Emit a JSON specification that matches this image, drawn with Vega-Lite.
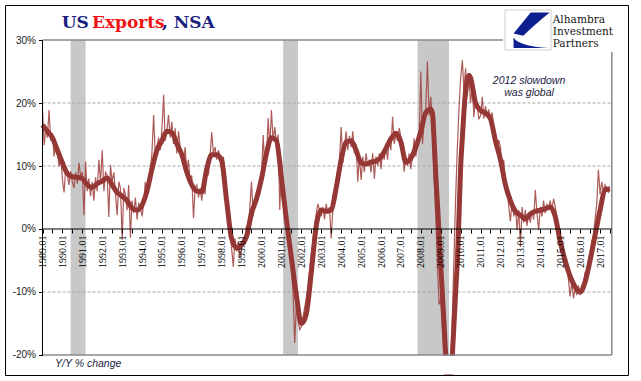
{
  "$schema": "https://vega.github.io/schema/vega-lite/v6.json",
  "width": 623,
  "height": 370,
  "autosize": {"type": "none"},
  "padding": {"left": 5, "top": 5, "right": 13, "bottom": 6},
  "background": "white",
  "config": {"view": {"stroke": "black", "strokeWidth": 1}},
  "datasets": {
    "m": [
      {"d":"1989-01","v":18.9},{"d":"1989-02","v":13.3},{"d":"1989-03","v":15.8},{"d":"1989-04","v":14.5},{"d":"1989-05","v":18.9},{"d":"1989-06","v":14.0},{"d":"1989-07","v":15.2},{"d":"1989-08","v":11.5},{"d":"1989-09","v":13.8},{"d":"1989-10","v":12.0},{"d":"1989-11","v":9.9},{"d":"1989-12","v":11.8},
      {"d":"1990-01","v":7.8},{"d":"1990-02","v":5.8},{"d":"1990-03","v":9.5},{"d":"1990-04","v":8.6},{"d":"1990-05","v":7.0},{"d":"1990-06","v":9.2},{"d":"1990-07","v":7.5},{"d":"1990-08","v":6.5},{"d":"1990-09","v":9.0},{"d":"1990-10","v":7.2},{"d":"1990-11","v":10.5},{"d":"1990-12","v":8.4},
      {"d":"1991-01","v":9.0},{"d":"1991-02","v":2.2},{"d":"1991-03","v":10.7},{"d":"1991-04","v":6.0},{"d":"1991-05","v":8.0},{"d":"1991-06","v":5.2},{"d":"1991-07","v":7.5},{"d":"1991-08","v":4.5},{"d":"1991-09","v":8.2},{"d":"1991-10","v":6.0},{"d":"1991-11","v":11.0},{"d":"1991-12","v":7.5},
      {"d":"1992-01","v":12.5},{"d":"1992-02","v":6.0},{"d":"1992-03","v":9.0},{"d":"1992-04","v":8.5},{"d":"1992-05","v":1.9},{"d":"1992-06","v":10.2},{"d":"1992-07","v":7.5},{"d":"1992-08","v":9.0},{"d":"1992-09","v":5.5},{"d":"1992-10","v":2.2},{"d":"1992-11","v":7.5},{"d":"1992-12","v":6.5},
      {"d":"1993-01","v":-1.7},{"d":"1993-02","v":6.5},{"d":"1993-03","v":5.5},{"d":"1993-04","v":3.0},{"d":"1993-05","v":7.0},{"d":"1993-06","v":-1.4},{"d":"1993-07","v":4.5},{"d":"1993-08","v":2.5},{"d":"1993-09","v":5.0},{"d":"1993-10","v":1.5},{"d":"1993-11","v":4.0},{"d":"1993-12","v":3.5},
      {"d":"1994-01","v":2.0},{"d":"1994-02","v":4.0},{"d":"1994-03","v":7.5},{"d":"1994-04","v":5.5},{"d":"1994-05","v":8.0},{"d":"1994-06","v":9.5},{"d":"1994-07","v":12.0},{"d":"1994-08","v":18.1},{"d":"1994-09","v":11.5},{"d":"1994-10","v":13.0},{"d":"1994-11","v":14.5},{"d":"1994-12","v":12.5},
      {"d":"1995-01","v":16.0},{"d":"1995-02","v":21.3},{"d":"1995-03","v":14.0},{"d":"1995-04","v":15.5},{"d":"1995-05","v":18.1},{"d":"1995-06","v":14.5},{"d":"1995-07","v":17.0},{"d":"1995-08","v":13.5},{"d":"1995-09","v":16.0},{"d":"1995-10","v":12.0},{"d":"1995-11","v":15.5},{"d":"1995-12","v":13.0},
      {"d":"1996-01","v":12.0},{"d":"1996-02","v":10.5},{"d":"1996-03","v":13.0},{"d":"1996-04","v":9.0},{"d":"1996-05","v":11.0},{"d":"1996-06","v":7.5},{"d":"1996-07","v":8.5},{"d":"1996-08","v":1.7},{"d":"1996-09","v":6.5},{"d":"1996-10","v":7.0},{"d":"1996-11","v":5.0},{"d":"1996-12","v":6.5},
      {"d":"1997-01","v":4.5},{"d":"1997-02","v":7.0},{"d":"1997-03","v":5.5},{"d":"1997-04","v":10.0},{"d":"1997-05","v":8.5},{"d":"1997-06","v":11.5},{"d":"1997-07","v":15.4},{"d":"1997-08","v":12.0},{"d":"1997-09","v":13.0},{"d":"1997-10","v":11.0},{"d":"1997-11","v":12.5},{"d":"1997-12","v":11.5},
      {"d":"1998-01","v":10.0},{"d":"1998-02","v":11.5},{"d":"1998-03","v":9.0},{"d":"1998-04","v":4.5},{"d":"1998-05","v":2.0},{"d":"1998-06","v":0.5},{"d":"1998-07","v":-3.0},{"d":"1998-08","v":-6.0},{"d":"1998-09","v":-1.5},{"d":"1998-10","v":-3.5},{"d":"1998-11","v":-2.0},{"d":"1998-12","v":-4.5},
      {"d":"1999-01","v":-3.0},{"d":"1999-02","v":-1.5},{"d":"1999-03","v":-2.5},{"d":"1999-04","v":0.5},{"d":"1999-05","v":-1.0},{"d":"1999-06","v":3.5},{"d":"1999-07","v":7.5},{"d":"1999-08","v":2.0},{"d":"1999-09","v":5.0},{"d":"1999-10","v":4.0},{"d":"1999-11","v":6.5},{"d":"1999-12","v":5.5},
      {"d":"2000-01","v":8.5},{"d":"2000-02","v":14.9},{"d":"2000-03","v":9.5},{"d":"2000-04","v":11.0},{"d":"2000-05","v":17.6},{"d":"2000-06","v":13.0},{"d":"2000-07","v":18.9},{"d":"2000-08","v":14.0},{"d":"2000-09","v":16.2},{"d":"2000-10","v":13.5},{"d":"2000-11","v":15.0},{"d":"2000-12","v":3.0},
      {"d":"2001-01","v":11.0},{"d":"2001-02","v":6.5},{"d":"2001-03","v":4.0},{"d":"2001-04","v":2.5},{"d":"2001-05","v":0.5},{"d":"2001-06","v":-2.5},{"d":"2001-07","v":-6.0},{"d":"2001-08","v":-10.0},{"d":"2001-09","v":-18.1},{"d":"2001-10","v":-12.0},{"d":"2001-11","v":-14.5},{"d":"2001-12","v":-16.0},
      {"d":"2002-01","v":-15.5},{"d":"2002-02","v":-14.0},{"d":"2002-03","v":-12.5},{"d":"2002-04","v":-11.0},{"d":"2002-05","v":-9.0},{"d":"2002-06","v":-6.5},{"d":"2002-07","v":-4.0},{"d":"2002-08","v":-2.0},{"d":"2002-09","v":0.5},{"d":"2002-10","v":2.5},{"d":"2002-11","v":4.0},{"d":"2002-12","v":3.0},
      {"d":"2003-01","v":2.0},{"d":"2003-02","v":3.5},{"d":"2003-03","v":1.5},{"d":"2003-04","v":4.0},{"d":"2003-05","v":2.5},{"d":"2003-06","v":3.5},{"d":"2003-07","v":-1.5},{"d":"2003-08","v":3.0},{"d":"2003-09","v":5.0},{"d":"2003-10","v":7.5},{"d":"2003-11","v":9.0},{"d":"2003-12","v":11.0},
      {"d":"2004-01","v":16.2},{"d":"2004-02","v":10.5},{"d":"2004-03","v":13.0},{"d":"2004-04","v":15.5},{"d":"2004-05","v":12.5},{"d":"2004-06","v":14.8},{"d":"2004-07","v":13.0},{"d":"2004-08","v":15.5},{"d":"2004-09","v":12.0},{"d":"2004-10","v":13.5},{"d":"2004-11","v":7.5},{"d":"2004-12","v":11.5},
      {"d":"2005-01","v":7.8},{"d":"2005-02","v":11.5},{"d":"2005-03","v":9.0},{"d":"2005-04","v":12.0},{"d":"2005-05","v":10.0},{"d":"2005-06","v":11.0},{"d":"2005-07","v":9.0},{"d":"2005-08","v":12.0},{"d":"2005-09","v":8.0},{"d":"2005-10","v":11.5},{"d":"2005-11","v":10.0},{"d":"2005-12","v":12.0},
      {"d":"2006-01","v":9.5},{"d":"2006-02","v":12.5},{"d":"2006-03","v":11.0},{"d":"2006-04","v":13.5},{"d":"2006-05","v":11.0},{"d":"2006-06","v":14.5},{"d":"2006-07","v":12.5},{"d":"2006-08","v":17.8},{"d":"2006-09","v":13.5},{"d":"2006-10","v":15.0},{"d":"2006-11","v":14.0},{"d":"2006-12","v":16.0},
      {"d":"2007-01","v":14.5},{"d":"2007-02","v":13.0},{"d":"2007-03","v":9.1},{"d":"2007-04","v":11.5},{"d":"2007-05","v":10.0},{"d":"2007-06","v":12.0},{"d":"2007-07","v":9.5},{"d":"2007-08","v":11.5},{"d":"2007-09","v":14.4},{"d":"2007-10","v":11.5},{"d":"2007-11","v":13.5},{"d":"2007-12","v":14.0},
      {"d":"2008-01","v":25.0},{"d":"2008-02","v":13.5},{"d":"2008-03","v":17.0},{"d":"2008-04","v":19.0},{"d":"2008-05","v":26.6},{"d":"2008-06","v":18.0},{"d":"2008-07","v":21.0},{"d":"2008-08","v":17.0},{"d":"2008-09","v":8.0},{"d":"2008-10","v":2.0},{"d":"2008-11","v":-6.0},{"d":"2008-12","v":-12.0},
      {"d":"2009-01","v":-11.0},{"d":"2009-02","v":-16.0},{"d":"2009-03","v":-20.0},{"d":"2009-04","v":-25.0},{"d":"2009-05","v":-27.0},{"d":"2009-06","v":-26.0},{"d":"2009-07","v":-22.0},{"d":"2009-08","v":-14.0},{"d":"2009-09","v":-4.0},{"d":"2009-10","v":5.0},{"d":"2009-11","v":13.0},{"d":"2009-12","v":19.0},
      {"d":"2010-01","v":24.0},{"d":"2010-02","v":26.8},{"d":"2010-03","v":22.0},{"d":"2010-04","v":25.5},{"d":"2010-05","v":21.0},{"d":"2010-06","v":24.0},{"d":"2010-07","v":20.0},{"d":"2010-08","v":22.5},{"d":"2010-09","v":17.8},{"d":"2010-10","v":21.0},{"d":"2010-11","v":19.5},{"d":"2010-12","v":17.5},
      {"d":"2011-01","v":18.0},{"d":"2011-02","v":21.0},{"d":"2011-03","v":17.5},{"d":"2011-04","v":19.5},{"d":"2011-05","v":18.0},{"d":"2011-06","v":19.0},{"d":"2011-07","v":17.5},{"d":"2011-08","v":18.5},{"d":"2011-09","v":16.0},{"d":"2011-10","v":14.5},{"d":"2011-11","v":13.0},{"d":"2011-12","v":14.1},
      {"d":"2012-01","v":13.0},{"d":"2012-02","v":9.4},{"d":"2012-03","v":11.0},{"d":"2012-04","v":7.0},{"d":"2012-05","v":6.5},{"d":"2012-06","v":3.5},{"d":"2012-07","v":1.2},{"d":"2012-08","v":4.5},{"d":"2012-09","v":2.0},{"d":"2012-10","v":3.5},{"d":"2012-11","v":-0.2},{"d":"2012-12","v":3.0},
      {"d":"2013-01","v":-2.8},{"d":"2013-02","v":3.5},{"d":"2013-03","v":1.0},{"d":"2013-04","v":3.0},{"d":"2013-05","v":0.5},{"d":"2013-06","v":2.5},{"d":"2013-07","v":1.0},{"d":"2013-08","v":3.0},{"d":"2013-09","v":1.5},{"d":"2013-10","v":6.2},{"d":"2013-11","v":2.5},{"d":"2013-12","v":-0.2},
      {"d":"2014-01","v":3.5},{"d":"2014-02","v":2.0},{"d":"2014-03","v":4.5},{"d":"2014-04","v":2.5},{"d":"2014-05","v":4.0},{"d":"2014-06","v":3.0},{"d":"2014-07","v":4.5},{"d":"2014-08","v":3.0},{"d":"2014-09","v":4.8},{"d":"2014-10","v":3.5},{"d":"2014-11","v":2.0},{"d":"2014-12","v":0.0},
      {"d":"2015-01","v":-2.0},{"d":"2015-02","v":-4.0},{"d":"2015-03","v":-3.5},{"d":"2015-04","v":-6.0},{"d":"2015-05","v":-5.5},{"d":"2015-06","v":-8.0},{"d":"2015-07","v":-10.7},{"d":"2015-08","v":-8.5},{"d":"2015-09","v":-11.0},{"d":"2015-10","v":-9.5},{"d":"2015-11","v":-10.5},{"d":"2015-12","v":-9.0},
      {"d":"2016-01","v":-10.5},{"d":"2016-02","v":-9.0},{"d":"2016-03","v":-8.5},{"d":"2016-04","v":-7.0},{"d":"2016-05","v":-7.5},{"d":"2016-06","v":-5.0},{"d":"2016-07","v":-4.0},{"d":"2016-08","v":-2.0},{"d":"2016-09","v":-1.0},{"d":"2016-10","v":1.5},{"d":"2016-11","v":4.0},{"d":"2016-12","v":9.4},
      {"d":"2017-01","v":5.5},{"d":"2017-02","v":7.5},{"d":"2017-03","v":6.0},{"d":"2017-04","v":7.0},{"d":"2017-05","v":6.5},{"d":"2017-06","v":5.8},{"d":"2017-07","v":6.2}
    ],
    "a": [
      {"d":"1989-01","v":16.5},{"d":"1989-04","v":15.5},{"d":"1989-07","v":14.5},{"d":"1989-10","v":12.5},
      {"d":"1990-01","v":10.5},{"d":"1990-04","v":8.8},{"d":"1990-07","v":8.3},{"d":"1990-10","v":8.2},
      {"d":"1991-01","v":8.0},{"d":"1991-04","v":7.0},{"d":"1991-07","v":6.6},{"d":"1991-10","v":7.2},
      {"d":"1992-01","v":7.6},{"d":"1992-04","v":8.1},{"d":"1992-07","v":7.0},{"d":"1992-10","v":5.8},
      {"d":"1993-01","v":5.2},{"d":"1993-04","v":4.5},{"d":"1993-07","v":3.3},{"d":"1993-10","v":3.0},
      {"d":"1994-01","v":3.8},{"d":"1994-04","v":6.0},{"d":"1994-07","v":9.5},{"d":"1994-10","v":12.5},
      {"d":"1995-01","v":14.0},{"d":"1995-04","v":15.5},{"d":"1995-07","v":15.3},{"d":"1995-10","v":13.5},
      {"d":"1996-01","v":11.8},{"d":"1996-04","v":9.0},{"d":"1996-07","v":7.0},{"d":"1996-10","v":6.0},
      {"d":"1997-01","v":5.9},{"d":"1997-04","v":9.5},{"d":"1997-07","v":11.8},{"d":"1997-10","v":11.8},
      {"d":"1998-01","v":10.8},{"d":"1998-04","v":4.5},{"d":"1998-07","v":-1.5},{"d":"1998-10","v":-3.0},
      {"d":"1999-01","v":-2.5},{"d":"1999-04","v":-1.2},{"d":"1999-07","v":2.5},{"d":"1999-10","v":4.8},
      {"d":"2000-01","v":8.0},{"d":"2000-04","v":12.0},{"d":"2000-07","v":14.5},{"d":"2000-10","v":14.0},
      {"d":"2001-01","v":8.0},{"d":"2001-04","v":1.5},{"d":"2001-07","v":-4.5},{"d":"2001-10","v":-10.5},
      {"d":"2002-01","v":-15.0},{"d":"2002-04","v":-13.5},{"d":"2002-07","v":-7.0},{"d":"2002-10","v":0.5},
      {"d":"2003-01","v":3.0},{"d":"2003-04","v":2.8},{"d":"2003-07","v":3.0},{"d":"2003-10","v":6.5},
      {"d":"2004-01","v":11.0},{"d":"2004-04","v":13.8},{"d":"2004-07","v":14.0},{"d":"2004-10","v":12.5},
      {"d":"2005-01","v":10.5},{"d":"2005-04","v":10.3},{"d":"2005-07","v":10.6},{"d":"2005-10","v":10.8},
      {"d":"2006-01","v":11.4},{"d":"2006-04","v":12.8},{"d":"2006-07","v":14.3},{"d":"2006-10","v":15.2},
      {"d":"2007-01","v":13.8},{"d":"2007-04","v":10.6},{"d":"2007-07","v":11.2},{"d":"2007-10","v":13.0},
      {"d":"2008-01","v":15.5},{"d":"2008-04","v":18.5},{"d":"2008-07","v":19.0},{"d":"2008-08","v":18.4},{"d":"2008-09","v":14.0},{"d":"2008-10","v":8.5},{"d":"2008-11","v":4.0},{"d":"2008-12","v":-1.0},
      {"d":"2009-01","v":-6.0},{"d":"2009-02","v":-10.5},{"d":"2009-03","v":-15.0},{"d":"2009-04","v":-20.0},{"d":"2009-05","v":-23.5},{"d":"2009-06","v":-25.0},{"d":"2009-07","v":-24.0},{"d":"2009-08","v":-20.0},{"d":"2009-09","v":-15.0},{"d":"2009-10","v":-10.0},{"d":"2009-11","v":-5.0},{"d":"2009-12","v":2.0},
      {"d":"2010-01","v":10.0},{"d":"2010-02","v":14.5},{"d":"2010-03","v":18.5},{"d":"2010-04","v":22.0},{"d":"2010-05","v":23.5},{"d":"2010-06","v":24.4},{"d":"2010-07","v":24.0},{"d":"2010-10","v":20.0},
      {"d":"2011-01","v":18.8},{"d":"2011-04","v":18.4},{"d":"2011-07","v":17.5},{"d":"2011-10","v":14.0},
      {"d":"2012-01","v":11.0},{"d":"2012-04","v":7.0},{"d":"2012-07","v":4.5},{"d":"2012-10","v":2.8},
      {"d":"2013-01","v":2.2},{"d":"2013-04","v":1.6},{"d":"2013-07","v":2.4},{"d":"2013-10","v":2.8},
      {"d":"2014-01","v":3.0},{"d":"2014-04","v":3.2},{"d":"2014-07","v":3.5},{"d":"2014-10","v":2.0},
      {"d":"2015-01","v":-2.0},{"d":"2015-04","v":-5.0},{"d":"2015-07","v":-7.5},{"d":"2015-10","v":-9.2},
      {"d":"2016-01","v":-10.0},{"d":"2016-04","v":-8.4},{"d":"2016-07","v":-5.0},{"d":"2016-10","v":-1.0},
      {"d":"2017-01","v":3.0},{"d":"2017-04","v":6.2},{"d":"2017-07","v":6.4}
    ]
  },
  "layer": [
    {
      "data": {"values": [
        {"s": "1990-06-01", "e": "1991-03-01"},
        {"s": "2001-02-01", "e": "2001-11-01"},
        {"s": "2007-11-01", "e": "2009-06-01"}
      ]},
      "mark": {"type": "rect", "color": "#c8c8c8"},
      "encoding": {
        "x": {"field": "s", "type": "temporal"},
        "x2": {"field": "e"},
        "y": {"datum": 30, "type": "quantitative"},
        "y2": {"datum": -20}
      }
    },
    {
      "data": {"values": [{"g": 20}, {"g": 10}, {"g": -10}]},
      "mark": {"type": "rule", "color": "#a6a6a6", "strokeWidth": 1, "strokeDash": [3, 2]},
      "encoding": {
        "y": {"field": "g", "type": "quantitative"},
        "x": {"datum": {"year": 1989, "month": 1, "date": 1, "utc": true}, "type": "temporal"},
        "x2": {"datum": {"year": 2017, "month": 8, "date": 4, "utc": true}}
      }
    },
    {
      "data": {"name": "m"},
      "mark": {"type": "line", "color": "#9e3e3c", "strokeWidth": 1.2, "opacity": 0.85, "clip": true},
      "encoding": {
        "x": {
          "field": "d", "type": "temporal",
          "scale": {"type": "utc", "domain": [{"year": 1987, "month": 2, "date": 13, "utc": true}, {"year": 2018, "month": 5, "date": 28, "utc": true}]},
          "axis": {
            "title": null, "domain": false, "grid": false, "offset": -146, "zindex": 1,
            "tickCount": {"interval": "month", "step": 6},
            "tickSize": 4, "tickColor": "black", "tickWidth": 1,
            "tickOpacity": {"condition": {"test": "datum.value < utc(1988,11,15) || datum.value > utc(2017,7,15)", "value": 0}, "value": 1},
            "labelExpr": "utcmonth(datum.value) == 0 && utcyear(datum.value) >= 1989 && utcyear(datum.value) <= 2017 ? utcFormat(datum.value, '%Y.%m') : ''",
            "labelAngle": 270, "labelAlign": "right", "labelBaseline": "middle",
            "labelFont": "Liberation Serif", "labelFontSize": 10, "labelColor": "black",
            "labelOverlap": false, "labelBound": false, "labelFlush": false, "labelPadding": 2
          }
        },
        "y": {
          "field": "v", "type": "quantitative",
          "scale": {"domain": [-23.175, 35.556], "nice": false, "zero": false},
          "axis": {
            "title": null, "domain": false, "grid": false, "offset": -37.5, "zindex": 1,
            "values": [-20, -10, 0, 10, 20, 30],
            "tickSize": 4, "tickColor": "black",
            "labelExpr": "datum.value + '%'",
            "labelFont": "Liberation Sans", "labelFontSize": 10, "labelColor": "#1a1a1a", "labelPadding": 3
          }
        }
      }
    },
    {
      "data": {"name": "a"},
      "mark": {"type": "line", "color": "#953735", "strokeWidth": 5, "interpolate": "monotone", "strokeJoin": "round", "clip": true},
      "encoding": {
        "x": {"field": "d", "type": "temporal"},
        "y": {"field": "v", "type": "quantitative"}
      }
    },
    {
      "data": {"values": [{}]},
      "mark": {"type": "rect", "color": "white"},
      "encoding": {
        "x": {"datum": {"year": 1988, "month": 12, "date": 20, "utc": true}, "type": "temporal"},
        "x2": {"datum": {"year": 2017, "month": 8, "date": 20, "utc": true}},
        "y": {"datum": -20.1, "type": "quantitative"},
        "y2": {"datum": -23.1}
      }
    },
    {
      "data": {"values": [{}]},
      "mark": {"type": "rule", "color": "#8a8a8a", "strokeWidth": 1.5},
      "encoding": {
        "x": {"datum": {"year": 1989, "month": 1, "date": 1, "utc": true}, "type": "temporal"},
        "x2": {"datum": {"year": 2012, "month": 2, "date": 17, "utc": true}},
        "y": {"datum": 30, "type": "quantitative"}
      }
    },
    {
      "data": {"values": [{}]},
      "mark": {"type": "rule", "color": "#8a8a8a", "strokeWidth": 1.5},
      "encoding": {
        "x": {"datum": {"year": 1989, "month": 1, "date": 1, "utc": true}, "type": "temporal"},
        "x2": {"datum": {"year": 2017, "month": 8, "date": 4, "utc": true}},
        "y": {"datum": -20, "type": "quantitative"}
      }
    },
    {
      "data": {"values": [{}]},
      "mark": {"type": "rule", "color": "#8a8a8a", "strokeWidth": 1.5},
      "encoding": {
        "x": {"datum": {"year": 2017, "month": 8, "date": 4, "utc": true}, "type": "temporal"},
        "y": {"datum": -20, "type": "quantitative"},
        "y2": {"datum": 28.1}
      }
    },
    {
      "data": {"values": [{}]},
      "mark": {"type": "rule", "color": "black", "strokeWidth": 1},
      "encoding": {
        "x": {"datum": {"year": 1989, "month": 1, "date": 1, "utc": true}, "type": "temporal"},
        "x2": {"datum": {"year": 2017, "month": 8, "date": 4, "utc": true}},
        "y": {"datum": 0, "type": "quantitative"}
      }
    },
    {
      "data": {"values": [{}]},
      "mark": {"type": "rule", "color": "black", "strokeWidth": 1},
      "encoding": {
        "x": {"datum": {"year": 1989, "month": 1, "date": 1, "utc": true}, "type": "temporal"},
        "y": {"datum": -20, "type": "quantitative"},
        "y2": {"datum": 30}
      }
    },
    {
      "data": {"values": [{}]},
      "mark": {"type": "text", "text": "US", "font": "DejaVu Serif", "fontWeight": "bold", "fontSize": 17, "color": "#1b1f7d", "align": "left", "baseline": "alphabetic"},
      "encoding": {
        "x": {"datum": {"year": 1989, "month": 12, "date": 20, "utc": true}, "type": "temporal"},
        "y": {"datum": 31.86, "type": "quantitative"}
      }
    },
    {
      "data": {"values": [{}]},
      "mark": {"type": "text", "text": "Exports", "font": "DejaVu Serif", "fontWeight": "bold", "fontSize": 17, "color": "#f01414", "align": "left", "baseline": "alphabetic"},
      "encoding": {
        "x": {"datum": {"year": 1991, "month": 6, "date": 27, "utc": true}, "type": "temporal"},
        "y": {"datum": 31.86, "type": "quantitative"}
      }
    },
    {
      "data": {"values": [{}]},
      "mark": {"type": "text", "text": ", NSA", "font": "DejaVu Serif", "fontWeight": "bold", "fontSize": 17, "color": "#1b1f7d", "align": "left", "baseline": "alphabetic"},
      "encoding": {
        "x": {"datum": {"year": 1995, "month": 1, "date": 1, "utc": true}, "type": "temporal"},
        "y": {"datum": 31.86, "type": "quantitative"}
      }
    },
    {
      "data": {"values": [{}]},
      "mark": {"type": "rect", "fill": "white", "stroke": "#cfcfcf", "strokeWidth": 1},
      "encoding": {
        "x": {"datum": {"year": 2012, "month": 3, "date": 25, "utc": true}, "type": "temporal"},
        "x2": {"datum": {"year": 2014, "month": 7, "date": 16, "utc": true}},
        "y": {"datum": 34.76, "type": "quantitative"},
        "y2": {"datum": 28.41}
      }
    },
    {
      "data": {"values": [{}]},
      "mark": {"type": "point", "filled": true, "fill": "#0c1f8f", "opacity": 1, "strokeWidth": 0, "size": 1936,
        "shape": "M0.12,-0.8 L0.983,-0.8 Q0.3,-0.25 -0.22,0.26 L-0.66,0.16 Z M-0.66,0.34 Q-0.42,0.74 0.94,0.82 L-0.66,0.82 Z"},
      "encoding": {
        "x": {"datum": {"year": 2013, "month": 5, "date": 21, "utc": true}, "type": "temporal"},
        "y": {"datum": 31.59, "type": "quantitative"}
      }
    },
    {
      "data": {"values": [{}]},
      "mark": {"type": "text", "text": ["Alhambra", "Investment", "Partners"], "lineHeight": 11.7, "font": "DejaVu Serif", "fontSize": 10.6, "color": "#1a1a1a", "align": "left", "baseline": "alphabetic"},
      "encoding": {
        "x": {"datum": {"year": 2014, "month": 8, "date": 16, "utc": true}, "type": "temporal"},
        "y": {"datum": 32.65, "type": "quantitative"}
      }
    },
    {
      "data": {"values": [{}]},
      "mark": {"type": "text", "text": ["2012 slowdown", "was global"], "lineHeight": 12.3, "font": "Liberation Sans", "fontStyle": "italic", "fontSize": 10.5, "color": "#1a1a40", "align": "center", "baseline": "middle"},
      "encoding": {
        "x": {"datum": {"year": 2013, "month": 6, "date": 8, "utc": true}, "type": "temporal"},
        "y": {"datum": 23.47, "type": "quantitative"}
      }
    },
    {
      "data": {"values": [{}]},
      "mark": {"type": "text", "text": "Y/Y % change", "font": "Liberation Sans", "fontStyle": "italic", "fontSize": 10.5, "color": "#1a1a40", "align": "left", "baseline": "alphabetic"},
      "encoding": {
        "x": {"datum": {"year": 1989, "month": 8, "date": 18, "utc": true}, "type": "temporal"},
        "y": {"datum": -21.9, "type": "quantitative"}
      }
    }
  ]
}
